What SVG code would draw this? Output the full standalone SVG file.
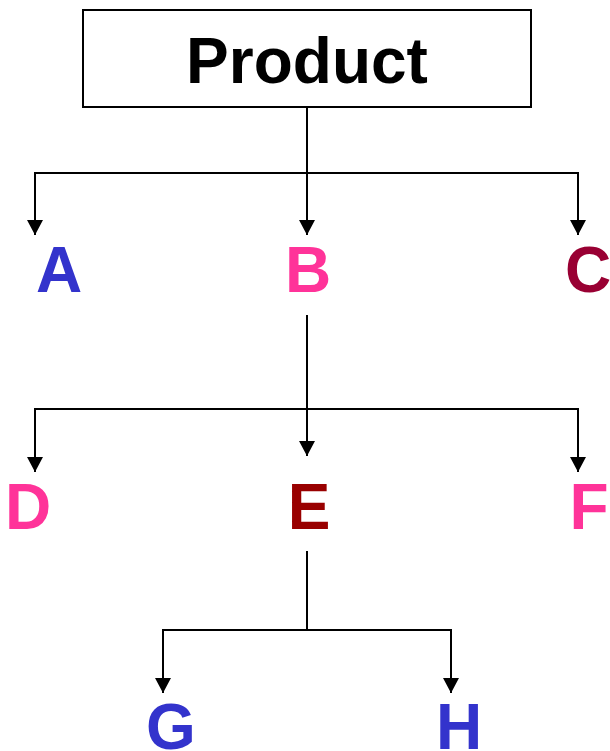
<svg xmlns="http://www.w3.org/2000/svg" width="610" height="751" viewBox="0 0 610 751">
  <style>
    .lbl { font-family: "Liberation Sans", Arial, sans-serif; font-weight: bold; font-size: 64px; text-anchor: middle; }
    .wire { fill: none; stroke: #000; stroke-width: 2; }
    .blue { fill: #3333CC; }
    .pink { fill: #FF3399; }
    .wine { fill: #990033; }
    .red { fill: #990000; }
  </style>
  <defs>
    <marker id="arrow" markerUnits="userSpaceOnUse" markerWidth="16" markerHeight="16" refX="15" refY="8" orient="auto-start-reverse">
      <path d="M0,0 L15,8 L0,16 Z" fill="#000"/>
    </marker>
  </defs>

  <rect width="610" height="751" fill="#fff"/>

  <g id="connectors">
    <!-- Product to A, B, C -->
    <path class="wire" d="M307,107 V173"/>
    <path class="wire" d="M35,235 V173 H578 V235" marker-start="url(#arrow)" marker-end="url(#arrow)"/>
    <path class="wire" d="M307,173 V235" marker-end="url(#arrow)"/>
    <!-- B to D, E, F -->
    <path class="wire" d="M307,315 V456" marker-end="url(#arrow)"/>
    <path class="wire" d="M35,472 V409 H578 V472" marker-start="url(#arrow)" marker-end="url(#arrow)"/>
    <!-- E to G, H -->
    <path class="wire" d="M307,551 V630"/>
    <path class="wire" d="M163,693 V630 H451 V693" marker-start="url(#arrow)" marker-end="url(#arrow)"/>
  </g>

  <g id="product">
    <rect x="83" y="10" width="448" height="97" fill="#fff" stroke="#000" stroke-width="2"/>
    <text class="lbl" x="307" y="83" fill="#000">Product</text>
  </g>

  <g id="node-a"><text class="lbl blue" x="59" y="292">A</text></g>
  <g id="node-b"><text class="lbl pink" x="308" y="292">B</text></g>
  <g id="node-c"><text class="lbl wine" x="588" y="292">C</text></g>

  <g id="node-d"><text class="lbl pink" x="28" y="529">D</text></g>
  <g id="node-e"><text class="lbl red" x="309" y="529">E</text></g>
  <g id="node-f"><text class="lbl pink" x="589" y="529">F</text></g>

  <g id="node-g"><text class="lbl blue" x="171" y="749">G</text></g>
  <g id="node-h"><text class="lbl blue" x="459" y="749">H</text></g>
</svg>
